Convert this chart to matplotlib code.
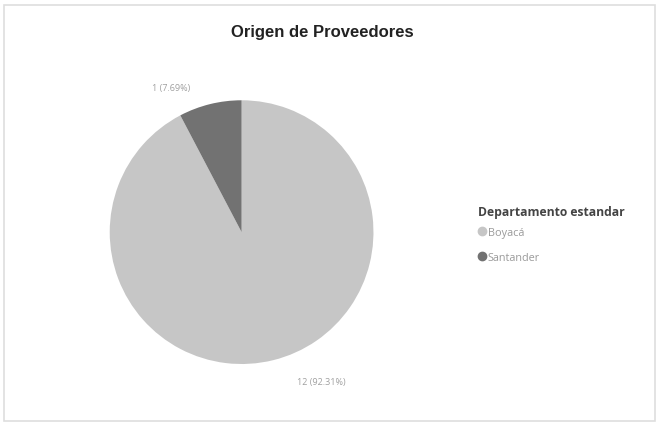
import numpy as np
import matplotlib
matplotlib.use("Agg")
import matplotlib.pyplot as plt
from matplotlib.lines import Line2D
from matplotlib.patches import Rectangle

# data
departamentos = ["Boyacá", "Santander"]
proveedores   = [12, 1]
colores       = ["#c6c6c6", "#727272"]

TITLE_FONT = ["Liberation Sans", "DejaVu Sans"]
BODY_FONT  = ["Open Sans", "DejaVu Sans"]

fig = plt.figure(figsize=(6.61, 4.27), dpi=100)
fig.patch.set_facecolor("white")
fig.patches.append(Rectangle((0.006, 0.012), 0.985, 0.975, transform=fig.transFigure,
                             fill=False, edgecolor="#dedede", linewidth=1.2))

ax = fig.add_axes([0.166, 0.145, 0.399, 0.618])
wedges, _ = ax.pie(proveedores, colors=colores, startangle=90, counterclock=False,
                   radius=1.0, wedgeprops=dict(linewidth=0))
ax.set_xlim(-1, 1); ax.set_ylim(-1, 1)
ax.set_aspect("equal")

# outside data labels, Power BI style: pushed out and sideways from the slice middle
total = sum(proveedores)
for w, n in zip(wedges, proveedores):
    mid = np.deg2rad((w.theta1 + w.theta2) / 2)
    cx, cy = np.cos(mid), np.sin(mid)
    x = 1.10 * cx + (0.34 if cx > 0 else 0.27) * np.sign(cx)
    y = (1.13 if cy < 0 else 1.10) * np.sign(cy)
    ax.text(x, y, f"{n} ({n / total:.2%})", ha="center", va="center",
            fontsize=6.5, color="#a0a0a0", family=BODY_FONT)

fig.text(0.487, 0.925, "Origen de Proveedores", ha="center", va="center",
         fontsize=12, fontweight="bold", color="#222222", family=TITLE_FONT)

# legend title drawn separately so its gap to the items can be set on its own
fig.text(0.723, 0.503, "Departamento estandar", ha="left", va="center",
         fontsize=8.7, fontweight="bold", color="#444444", family=BODY_FONT)
handles = [Line2D([], [], marker="o", linestyle="", markersize=6,
                  markerfacecolor=c, markeredgecolor=c) for c in colores]
leg = fig.legend(handles, departamentos, loc="upper left", bbox_to_anchor=(0.724, 0.467),
                 frameon=False, handlelength=0.6, handletextpad=0.25,
                 labelspacing=1.3, borderpad=0, borderaxespad=0,
                 prop=dict(family=BODY_FONT, size=7.8))
for t in leg.get_texts():
    t.set_color("#9a9a9a")

fig.savefig("out.png", dpi=100, facecolor="white")
